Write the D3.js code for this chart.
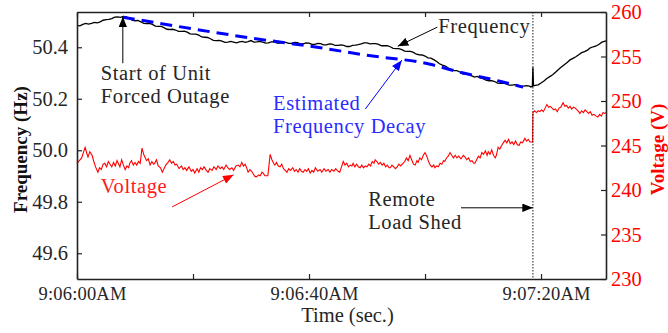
<!DOCTYPE html>
<html>
<head>
<meta charset="utf-8">
<script src="https://cdn.jsdelivr.net/npm/d3@7"></script>
<style>
  body { margin: 0; background: #fff; }
  svg { display: block; }
  text { font-family: "Liberation Serif", serif; }
</style>
</head>
<body>
<svg></svg>
<script>
var width = 668;
var height = 333;

// frequency (Hz), seconds after 9:06:00
var freqTime = [0,0.5,1,1.5,2,2.5,3,3.5,4,4.5,5,5.5,6,6.5,7,7.5,8,8.5,9,9.5,10,10.5,11,11.5,12,12.5,13,13.5,14,14.5,
  15,15.5,16,16.5,17,17.5,18,18.5,19,19.5,20,20.5,21,21.5,22,22.5,23,23.5,24,24.5,25,25.5,26,26.5,27,27.5,28,28.5,29,29.5,
  30,30.5,31,31.5,32,32.5,33,33.5,34,34.5,35,35.5,36,36.5,37,37.5,38,38.5,39,39.5,40,40.5,41,41.5,42,42.5,43,43.5,44,44.5,
  45,45.5,46,46.5,47,47.5,48,48.5,49,49.5,50,50.5,51,51.5,52,52.5,53,53.5,54,54.5,55,55.5,56,56.5,57,57.5,58,58.5,59,59.5,
  60,60.5,61,61.5,62,62.5,63,63.5,64,64.5,65,65.5,66,66.5,67,67.5,68,68.5,69,69.5,70,70.5,71,71.5,72,72.5,73,73.5,74,74.5,
  75,75.5,76,76.5,77,77.5,78,78.25,78.5,78.6,78.7,79,79.5,80,80.5,81,81.5,82,82.5,83,83.5,84,84.5,85,85.5,86,86.5,87,87.5,
  88,88.5,89,89.5,90,90.5,91.2];
var freqValue = [50.485,50.483,50.489,50.493,50.490,50.493,50.497,50.495,50.499,50.505,50.507,50.508,50.511,50.517,50.518,50.516,50.520,50.518,50.512,50.505,50.503,50.504,50.499,50.493,50.492,50.493,50.489,50.482,50.481,50.481,
  50.476,50.470,50.469,50.470,50.467,50.462,50.462,50.463,50.459,50.452,50.451,50.451,50.447,50.440,50.439,50.438,50.433,50.427,50.426,50.427,50.424,50.419,50.420,50.423,50.420,50.417,50.421,50.423,50.419,50.422,
  50.426,50.420,50.421,50.423,50.420,50.416,50.417,50.421,50.421,50.416,50.416,50.420,50.419,50.415,50.415,50.419,50.418,50.413,50.413,50.417,50.416,50.411,50.411,50.415,50.414,50.409,50.409,50.413,50.412,50.407,
  50.407,50.409,50.407,50.403,50.403,50.407,50.408,50.410,50.413,50.417,50.417,50.413,50.414,50.414,50.411,50.406,50.406,50.406,50.402,50.396,50.395,50.395,50.391,50.385,50.384,50.384,50.380,50.373,50.371,50.370,
  50.366,50.359,50.358,50.352,50.345,50.336,50.331,50.327,50.319,50.312,50.309,50.309,50.304,50.297,50.295,50.295,50.290,50.284,50.287,50.281,50.278,50.272,50.270,50.270,50.267,50.261,50.260,50.261,50.258,50.253,
  50.253,50.255,50.253,50.249,50.249,50.251,50.249,50.246,50.248,50.322,50.250,50.252,50.254,50.261,50.269,50.279,50.286,50.293,50.303,50.314,50.323,50.332,50.341,50.351,50.357,50.363,50.371,50.379,50.383,
  50.389,50.398,50.402,50.405,50.412,50.420,50.425];

// voltage (V)
var voltTime = [0,0.4,0.8,1.1,1.4,1.7,1.9,2.2,2.6,2.9,3.2,3.6,3.9,4.2,4.5,4.8,5.1,5.4,5.7,6,6.3,6.6,6.9,7.1,7.4,7.7,8,8.3,8.6,8.9,
  9.1,9.4,9.7,10,10.3,10.6,10.9,11.2,11.5,11.7,12,12.3,12.6,12.9,13.2,13.4,13.7,14,14.4,14.7,15,15.3,15.7,16,16.3,16.6,16.9,17.2,17.6,18,
  18.3,18.6,18.9,19.3,19.7,20,20.3,20.7,21,21.3,21.6,21.9,22.3,22.6,22.9,23.3,23.6,24,24.3,24.7,25,25.3,25.7,26,26.3,26.7,27,27.4,27.8,28.1,
  28.4,28.7,29,29.3,29.5,29.8,30.1,30.4,30.7,31,31.3,31.6,31.9,32.1,32.4,32.7,32.9,33.1,33.3,33.6,33.9,34.1,34.4,34.7,35,35.3,35.6,35.9,36.2,36.5,
  36.8,37.2,37.5,37.8,38.1,38.4,38.7,39,39.3,39.6,39.9,40.2,40.5,40.8,41.1,41.5,41.9,42.2,42.6,42.9,43.3,43.6,43.9,44.3,44.6,45,45.3,45.6,45.9,46.2,
  46.5,46.8,47.1,47.4,47.6,47.9,48.2,48.5,48.8,49.1,49.4,49.7,50,50.3,50.6,50.9,51.2,51.4,51.7,52,52.3,52.6,52.9,53.2,53.5,53.8,54,54.3,54.6,54.9,
  55.2,55.5,55.8,56.2,56.5,56.8,57.1,57.4,57.7,58,58.3,58.6,58.8,59.1,59.4,59.7,60,60.3,60.6,60.9,61.2,61.5,61.7,62,62.3,62.6,62.9,63.2,63.4,63.7,
  64,64.3,64.6,64.9,65.2,65.5,65.8,66.2,66.6,66.9,67.2,67.5,67.8,68.1,68.4,68.6,68.9,69.2,69.5,69.8,70.1,70.4,70.7,70.9,71.2,71.5,71.8,72.1,72.3,72.6,
  72.9,73.2,73.5,73.8,74.1,74.4,74.7,75,75.3,75.6,75.9,76.2,76.5,76.8,77.2,77.5,77.8,78.1,78.4,78.55,78.6,78.9,79.2,79.5,79.8,80.1,80.4,80.7,81,81.3,
  81.6,81.9,82.2,82.5,82.8,83.1,83.4,83.8,84.1,84.4,84.7,85,85.3,85.6,85.9,86.2,86.5,86.7,87,87.3,87.6,87.9,88.2,88.5,88.8,89.1,89.5,89.8,90.1,90.4,90.7,91,91.2];
var voltValue = [243.0,243.3,243.6,244.2,244.8,244.1,243.7,244.3,243.9,243.2,242.6,242.0,242.5,242.3,242.9,243.0,242.6,243.2,242.9,242.6,243.1,242.7,243.3,243.0,242.6,243.4,242.8,242.3,242.7,242.5,
  243.0,243.3,242.8,243.1,242.8,243.2,243.0,244.7,244.0,243.7,243.3,243.5,242.8,243.2,242.9,243.0,243.4,242.7,242.5,242.0,242.4,242.8,243.1,243.4,243.0,243.2,242.8,242.9,242.4,242.7,
  242.3,242.5,242.2,242.6,242.1,242.3,241.9,242.4,242.0,242.5,242.3,242.6,242.2,242.0,242.4,242.2,242.6,242.3,242.7,242.4,242.6,242.3,242.8,242.5,242.3,242.5,242.2,242.7,242.8,242.6,
  243.1,242.7,242.9,242.4,242.0,242.3,242.1,241.8,241.5,241.5,241.7,241.6,242.0,241.9,241.6,241.6,241.6,242.8,244.0,243.4,243.0,242.8,243.1,242.7,242.6,242.9,242.4,242.2,242.0,242.4,
  242.2,242.5,242.1,242.3,242.0,242.4,242.1,242.0,242.3,242.1,242.4,241.9,242.2,242.0,242.5,242.1,242.3,242.0,242.4,242.1,242.3,242.0,242.3,242.1,242.4,242.1,242.0,242.6,243.2,242.8,
  243.0,242.6,242.8,242.7,243.0,242.6,242.9,242.6,242.5,242.8,242.5,242.7,242.6,242.9,242.7,243.2,243.0,243.4,243.2,242.9,243.1,242.8,243.0,242.6,242.8,242.5,242.5,242.8,242.6,242.4,
  242.6,242.9,242.7,243.0,243.2,243.6,243.3,243.9,243.4,242.9,242.8,243.3,243.1,243.6,243.4,243.9,244.2,243.8,243.2,242.8,242.6,242.8,242.5,242.7,242.6,243.0,242.9,243.3,243.2,243.6,
  243.8,244.2,243.9,243.6,243.9,243.6,243.8,243.5,243.9,243.7,243.4,243.6,243.2,243.3,243.0,243.0,243.4,243.8,243.6,244.2,244.0,244.4,243.9,244.3,244.0,244.5,243.9,243.6,243.9,244.8,
  244.6,245.0,245.3,245.6,245.3,245.7,245.2,245.4,245.1,245.5,245.1,245.0,245.4,245.3,245.8,245.5,245.7,245.4,245.4,245.4,248.7,248.9,248.7,248.9,248.8,249.0,248.8,249.2,249.6,249.3,
  249.4,249.2,249.0,249.1,248.8,249.2,249.3,249.8,249.4,249.5,249.2,249.4,249.1,249.3,249.2,249.0,248.8,248.6,248.9,248.7,249.0,248.8,248.6,248.8,248.4,248.5,248.3,248.2,248.5,248.3,248.7,248.6,248.7];

// estimated frequency decay (dashed)
var decayTime = [7.9,30.3,41.4,50.0,60.9,66.0,72.9,76.9];
var decayValue = [50.517,50.435,50.400,50.369,50.334,50.303,50.268,50.245];

var freqTicks = [49.6,49.8,50.0,50.2,50.4];
var voltTicks = [230,235,240,245,250,255,260];
var timeTicks = [0,20,40,60,80];
var timeLabels = {0: "9:06:00AM", 40: "9:06:40AM", 80: "9:07:20AM"};
var shedTime = 78.6;

var margin = {top: 12, right: 62, bottom: 54, left: 77};

var svg = d3.select("svg")
  .attr("width", width)
  .attr("height", height);

var x = d3.scaleLinear().domain([0, 91.2]).range([margin.left, width - margin.right]);
var yF = d3.scaleLinear().domain([49.5, 50.537]).range([height - margin.bottom, margin.top]);
var yV = d3.scaleLinear().domain([230, 260]).range([height - margin.bottom, margin.top]);

var defs = svg.append("defs");
function arrowHead(id, color) {
  defs.append("marker")
    .attr("id", id)
    .attr("viewBox", "0 0 10 8")
    .attr("refX", 10).attr("refY", 4)
    .attr("markerWidth", 11).attr("markerHeight", 8.5)
    .attr("markerUnits", "userSpaceOnUse")
    .attr("orient", "auto")
    .append("path")
    .attr("d", "M0,0L10,4L0,8Z")
    .attr("fill", color);
}
arrowHead("ahBlack", "#000");
arrowHead("ahBlue", "#0000ff");
arrowHead("ahRed", "#ff0000");

// series
var voltData = voltTime.map(function(t, i) { return [t, voltValue[i]]; });
var freqData = freqTime.map(function(t, i) { return [t, freqValue[i]]; });
var decayData = decayTime.map(function(t, i) { return [t, decayValue[i]]; });

svg.append("path")
  .datum(voltData)
  .attr("fill", "none")
  .attr("stroke", "#ff0000")
  .attr("stroke-width", 1.1)
  .attr("d", d3.line().x(function(d) { return x(d[0]); }).y(function(d) { return yV(d[1]); }));

svg.append("path")
  .datum(freqData)
  .attr("fill", "none")
  .attr("stroke", "#000")
  .attr("stroke-width", 1.3)
  .attr("d", d3.line().x(function(d) { return x(d[0]); }).y(function(d) { return yF(d[1]); }));

svg.append("path")
  .datum(decayData)
  .attr("fill", "none")
  .attr("stroke", "#0000ff")
  .attr("stroke-width", 3)
  .attr("stroke-dasharray", "12,7")
  .attr("d", d3.line().curve(d3.curveMonotoneX).x(function(d) { return x(d[0]); }).y(function(d) { return yF(d[1]); }));

// load shed marker
svg.append("line")
  .attr("x1", x(shedTime)).attr("x2", x(shedTime))
  .attr("y1", yV(260)).attr("y2", yV(230))
  .attr("stroke", "#000")
  .attr("stroke-width", 0.9)
  .attr("stroke-dasharray", "1.5,1.5");

// axes (inward ticks, box)
var textCol = "#262626";
var bottomAxis = d3.axisBottom(x).tickValues(timeTicks).tickSizeInner(-5).tickSizeOuter(0).tickPadding(8)
  .tickFormat(function(d) { return timeLabels[d] || ""; });
var topAxis = d3.axisTop(x).tickValues(timeTicks).tickSizeInner(-5).tickSizeOuter(0).tickFormat("");
var leftAxis = d3.axisLeft(yF).tickValues(freqTicks).tickSizeInner(-5).tickSizeOuter(0).tickPadding(9)
  .tickFormat(d3.format(".1f"));
var rightAxis = d3.axisRight(yV).tickValues(voltTicks).tickSizeInner(-5).tickSizeOuter(0).tickPadding(5);

var gB = svg.append("g").attr("transform", "translate(0," + (height - margin.bottom) + ")").call(bottomAxis);
var gT = svg.append("g").attr("transform", "translate(0," + margin.top + ")").call(topAxis);
var gL = svg.append("g").attr("transform", "translate(" + margin.left + ",0)").call(leftAxis);
var gR = svg.append("g").attr("transform", "translate(" + (width - margin.right) + ",0)").call(rightAxis);

[gB, gT, gL, gR].forEach(function(g) {
  g.select(".domain").attr("stroke", "#222").attr("stroke-width", 1.6);
  g.selectAll(".tick line").attr("stroke", "#222").attr("stroke-width", 1.2);
  g.selectAll("text").attr("font-family", "Liberation Serif").attr("font-size", 20.5).attr("fill", textCol);
});
gB.selectAll("text").attr("dx", 5).attr("font-size", 18.5).attr("letter-spacing", 0.2);
gR.selectAll("text").attr("fill", "#ff0000");

// axis titles
svg.append("text")
  .attr("transform", "translate(27," + ((margin.top + height - margin.bottom) / 2 + 4) + ") rotate(-90)")
  .attr("text-anchor", "middle")
  .attr("font-size", 19).attr("font-weight", "bold")
  .attr("fill", "#111")
  .text("Frequency (Hz)");

svg.append("text")
  .attr("transform", "translate(664," + ((margin.top + height - margin.bottom) / 2 + 4) + ") rotate(-90)")
  .attr("text-anchor", "middle")
  .attr("font-size", 19).attr("font-weight", "bold")
  .attr("fill", "#ff0000")
  .text("Voltage (V)");

svg.append("text")
  .attr("x", (margin.left + width - margin.right) / 2 + 6)
  .attr("y", 322)
  .attr("text-anchor", "middle")
  .attr("font-size", 20.5)
  .attr("fill", textCol)
  .text("Time (sec.)");

// annotations: text lines and arrows, placed in data units
function note(lines, t, f, color) {
  var g = svg.append("text").attr("fill", color).attr("font-size", 20.5).attr("letter-spacing", 0.6);
  lines.forEach(function(s, i) {
    g.append("tspan").attr("x", x(t)).attr("y", yF(f) + i * 23).text(s);
  });
}
function arrow(x1, y1, x2, y2, color, id) {
  svg.append("line")
    .attr("x1", x1).attr("y1", y1).attr("x2", x2).attr("y2", y2)
    .attr("stroke", color).attr("stroke-width", 1)
    .attr("marker-end", "url(#" + id + ")");
}

note(["Start of Unit", "Forced Outage"], 4.1, 50.272, "#262626");
arrow(x(7.9), yF(50.338), x(7.9), yF(50.519), "#000", "ahBlack");

note(["Estimated", "Frequency Decay"], 33.8, 50.157, "#2b2bff");
arrow(x(49.7), yF(50.160), x(56.0), yF(50.350), "#0000ff", "ahBlue");

note(["Frequency"], 62.3, 50.457, "#262626");
arrow(x(62.1), yF(50.478), x(55.3), yF(50.404), "#000", "ahBlack");

note(["Voltage"], 4.1, 49.833, "#ff1a1a");
arrow(x(16.4), yV(238.1), x(27.0), yV(241.7), "#ff0000", "ahRed");

note(["Remote", "Load Shed"], 50.2, 49.783, "#262626");
arrow(x(66.2), yV(238.0), x(shedTime), yV(238.0), "#000", "ahBlack");
</script>
</body>
</html>
